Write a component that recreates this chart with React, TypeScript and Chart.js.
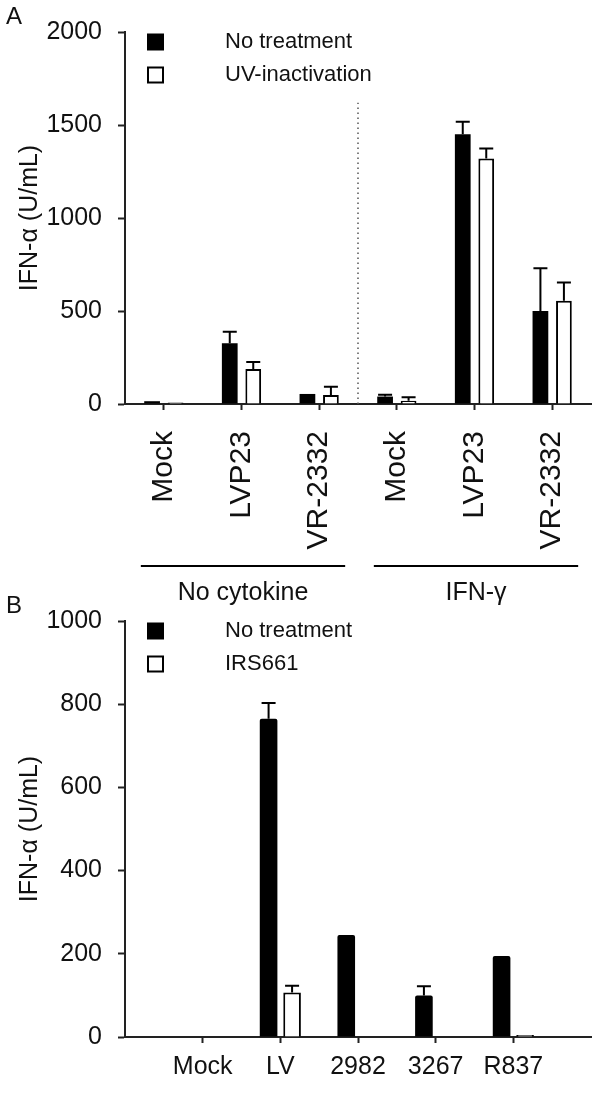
import React, { useEffect, useRef } from "react";
import { Chart, registerables } from "chart.js";
Chart.register(...registerables);

const FONT = '"Liberation Sans", Arial, Helvetica, sans-serif';
const INK = "#111";
const AXIS = "#222";

// ---- Panel A data ----
const categoriesA = ["Mock", "LVP23", "VR-2332", "Mock", "LVP23", "VR-2332"];
const groupLabelsA = ["No cytokine", "IFN-γ"];
const groupSpansA = [[0, 2], [3, 5]];
const noTreatmentA = [15, 326, 54, 40, 1450, 500];
const noTreatmentErrA = [0, 63, 0, 10, 68, 230];
const uvInactivationA = [8, 188, 48, 18, 1320, 555];
const uvInactivationErrA = [0, 38, 45, 18, 53, 98];
const legendA = ["No treatment", "UV-inactivation"];
const yTicksA = [0, 500, 1000, 1500, 2000];
const dividerTopA = 1620;

// ---- Panel B data ----
const categoriesB = ["Mock", "LV", "2982", "3267", "R837"];
const noTreatmentB = [0, 765, 245, 100, 195];
const noTreatmentErrB = [0, 38, 0, 22, 0];
const irs661B = [0, 107, 0, 0, 5];
const irs661ErrB = [0, 16, 0, 0, 0];
const legendB = ["No treatment", "IRS661"];
const yTicksB = [0, 200, 400, 600, 800, 1000];

const yTitle = "IFN-α (U/mL)";

type Extra = {
  letter: string;
  legend: string[];
  rotatedLabels?: string[];
  groups?: { labels: string[]; spans: number[][] };
  dividerTop?: number;
};

function overlayPlugin(extra: Extra) {
  return {
    id: "overlay",
    afterDatasetsDraw(chart: any) {
      const ctx: CanvasRenderingContext2D = chart.ctx;
      const xs = chart.scales.x;
      const ys = chart.scales.y;
      const area = chart.chartArea;
      ctx.save();
      // error bars
      chart.data.datasets.forEach((ds: any, di: number) => {
        const meta = chart.getDatasetMeta(di);
        meta.data.forEach((el: any, j: number) => {
          const v = ds.data[j];
          const e = ds.errors ? ds.errors[j] : 0;
          if (v == null || !e) return;
          const top = ys.getPixelForValue(v + e);
          ctx.strokeStyle = "#000";
          ctx.lineWidth = 2;
          ctx.beginPath();
          ctx.moveTo(el.x, el.y);
          ctx.lineTo(el.x, top);
          ctx.moveTo(el.x - 7, top);
          ctx.lineTo(el.x + 7, top);
          ctx.stroke();
        });
      });
      // divider
      if (extra.dividerTop != null) {
        const dx = (xs.getPixelForValue(2) + xs.getPixelForValue(3)) / 2;
        ctx.strokeStyle = "#555";
        ctx.lineWidth = 1.5;
        ctx.setLineDash([1.5, 3.5]);
        ctx.beginPath();
        ctx.moveTo(dx, area.bottom);
        ctx.lineTo(dx, ys.getPixelForValue(extra.dividerTop));
        ctx.stroke();
        ctx.setLineDash([]);
      }
      ctx.restore();
    },
    afterDraw(chart: any) {
      const ctx: CanvasRenderingContext2D = chart.ctx;
      const xs = chart.scales.x;
      const area = chart.chartArea;
      ctx.save();
      ctx.fillStyle = INK;
      // panel letter
      ctx.font = `24px ${FONT}`;
      ctx.textAlign = "left";
      ctx.textBaseline = "middle";
      ctx.fillText(extra.letter, 6, area.top - 15);
      // legend
      const sq = 17;
      const lx = 147;
      extra.legend.forEach((t, i) => {
        const cy = area.top + 10 + i * 33;
        ctx.lineWidth = 2;
        ctx.strokeStyle = "#000";
        if (i === 0) {
          ctx.fillStyle = "#000";
          ctx.fillRect(lx, cy - sq / 2, sq, sq);
        } else {
          ctx.fillStyle = "#fff";
          ctx.fillRect(lx + 1, cy - sq / 2 + 1, sq - 2, sq - 2);
          ctx.strokeRect(lx + 1, cy - sq / 2 + 1, sq - 2, sq - 2);
        }
        ctx.fillStyle = INK;
        ctx.font = `22px ${FONT}`;
        ctx.textAlign = "left";
        ctx.textBaseline = "middle";
        ctx.fillText(t, 225, cy);
      });
      // y title
      ctx.save();
      ctx.translate(30, (area.top + area.bottom) / 2);
      ctx.rotate(-Math.PI / 2);
      ctx.font = `25px ${FONT}`;
      ctx.textAlign = "center";
      ctx.textBaseline = "middle";
      ctx.fillText(yTitle, 0, 0);
      ctx.restore();
      // rotated category labels
      if (extra.rotatedLabels) {
        extra.rotatedLabels.forEach((lab, i) => {
          const x = xs.getPixelForValue(i);
          ctx.save();
          ctx.translate(x, area.bottom + 27);
          ctx.rotate(-Math.PI / 2);
          ctx.font = `30px ${FONT}`;
          ctx.textAlign = "right";
          ctx.textBaseline = "middle";
          ctx.fillText(lab, 0, 0);
          ctx.restore();
        });
      }
      // group brackets
      if (extra.groups) {
        extra.groups.spans.forEach((sp, gi) => {
          const x0 = xs.getPixelForValue(sp[0]) - 23;
          const x1 = xs.getPixelForValue(sp[1]) + 26;
          ctx.strokeStyle = "#000";
          ctx.lineWidth = 2;
          ctx.beginPath();
          ctx.moveTo(x0, area.bottom + 162);
          ctx.lineTo(x1, area.bottom + 162);
          ctx.stroke();
          ctx.font = `25px ${FONT}`;
          ctx.textAlign = "center";
          ctx.textBaseline = "middle";
          ctx.fillStyle = INK;
          ctx.fillText(extra.groups!.labels[gi], (x0 + x1) / 2, area.bottom + 189);
        });
      }
      ctx.restore();
    },
  };
}

function yScale(max: number, ticks: number[]) {
  return {
    min: 0,
    max,
    afterBuildTicks: (s: any) => {
      s.ticks = ticks.map((v) => ({ value: v }));
    },
    afterFit: (s: any) => {
      s.width = 125;
    },
    border: { display: true, color: AXIS, width: 2 },
    grid: {
      display: true,
      drawOnChartArea: false,
      drawTicks: true,
      tickLength: 7,
      tickWidth: 2,
      tickColor: AXIS,
    },
    ticks: {
      padding: 16,
      color: INK,
      font: { family: FONT, size: 25 },
      callback: (v: any) => String(v),
    },
  };
}

function PanelA() {
  const ref = useRef<HTMLCanvasElement>(null);
  useEffect(() => {
    const chart = new Chart(ref.current!, {
      type: "bar",
      data: {
        labels: categoriesA,
        datasets: [
          {
            label: legendA[0],
            data: noTreatmentA,
            errors: noTreatmentErrA,
            backgroundColor: "#000",
            borderWidth: 0,
            categoryPercentage: 0.605,
            barPercentage: 0.67,
          } as any,
          {
            label: legendA[1],
            data: uvInactivationA,
            errors: uvInactivationErrA,
            backgroundColor: "#fff",
            borderColor: "#000",
            borderWidth: 2,
            categoryPercentage: 0.605,
            barPercentage: 0.67,
          } as any,
        ],
      },
      options: {
        animation: false,
        responsive: false,
        devicePixelRatio: 1,
        layout: { padding: { top: 32, right: 9, left: 0, bottom: 0 } },
        plugins: { legend: { display: false }, tooltip: { enabled: false } },
        scales: {
          x: {
            type: "category",
            offset: true,
            afterFit: (s: any) => {
              s.height = 620 - 404;
            },
            border: { display: true, color: AXIS, width: 2 },
            grid: {
              offset: false,
              drawOnChartArea: false,
              drawTicks: true,
              tickLength: 6,
              tickWidth: 2,
              tickColor: AXIS,
            },
            ticks: { callback: () => "", autoSkip: false, maxRotation: 0 },
          },
          y: yScale(2000, yTicksA) as any,
        },
      },
      plugins: [
        overlayPlugin({
          letter: "A",
          legend: legendA,
          rotatedLabels: categoriesA,
          groups: { labels: groupLabelsA, spans: groupSpansA },
          dividerTop: dividerTopA,
        }),
      ],
    });
    return () => chart.destroy();
  }, []);
  return (
    <canvas
      ref={ref}
      width={600}
      height={620}
      style={{ position: "absolute", left: 0, top: 0, width: 600, height: 620 }}
    />
  );
}

function PanelB() {
  const ref = useRef<HTMLCanvasElement>(null);
  useEffect(() => {
    const labels = ["", ...categoriesB, ""];
    const pad = (a: number[]) => [null, ...a, null];
    const last = labels.length - 1;
    const chart = new Chart(ref.current!, {
      type: "bar",
      data: {
        labels,
        datasets: [
          {
            label: legendB[0],
            data: pad(noTreatmentB),
            errors: pad(noTreatmentErrB),
            backgroundColor: "#000",
            borderWidth: 0,
            borderRadius: 2,
            categoryPercentage: 0.605,
            barPercentage: 0.75,
          } as any,
          {
            label: legendB[1],
            data: pad(irs661B),
            errors: pad(irs661ErrB),
            backgroundColor: "#fff",
            borderColor: "#000",
            borderWidth: 2,
            categoryPercentage: 0.605,
            barPercentage: 0.75,
          } as any,
        ],
      },
      options: {
        animation: false,
        responsive: false,
        devicePixelRatio: 1,
        layout: { padding: { top: 25, right: 9, left: 0, bottom: 0 } },
        plugins: { legend: { display: false }, tooltip: { enabled: false } },
        scales: {
          x: {
            type: "category",
            offset: false,
            afterFit: (s: any) => {
              s.height = 505 - 447;
            },
            border: { display: true, color: AXIS, width: 2 },
            grid: {
              offset: false,
              drawOnChartArea: false,
              drawTicks: true,
              tickLength: 6,
              tickWidth: 2,
              tickColor: (c: any) =>
                c.index === 0 || c.index === last ? "rgba(0,0,0,0)" : AXIS,
            },
            ticks: {
              autoSkip: false,
              maxRotation: 0,
              padding: 9,
              color: INK,
              font: { family: FONT, size: 25 },
            },
          },
          y: yScale(1000, yTicksB) as any,
        },
      },
      plugins: [overlayPlugin({ letter: "B", legend: legendB })],
    });
    return () => chart.destroy();
  }, []);
  return (
    <canvas
      ref={ref}
      width={600}
      height={505}
      style={{ position: "absolute", left: 0, top: 590, width: 600, height: 505 }}
    />
  );
}

export default function App() {
  return (
    <div
      style={{
        position: "absolute",
        left: 0,
        top: 0,
        width: 600,
        height: 1095,
        background: "#fff",
        overflow: "hidden",
      }}
    >
      <PanelA />
      <PanelB />
    </div>
  );
}
